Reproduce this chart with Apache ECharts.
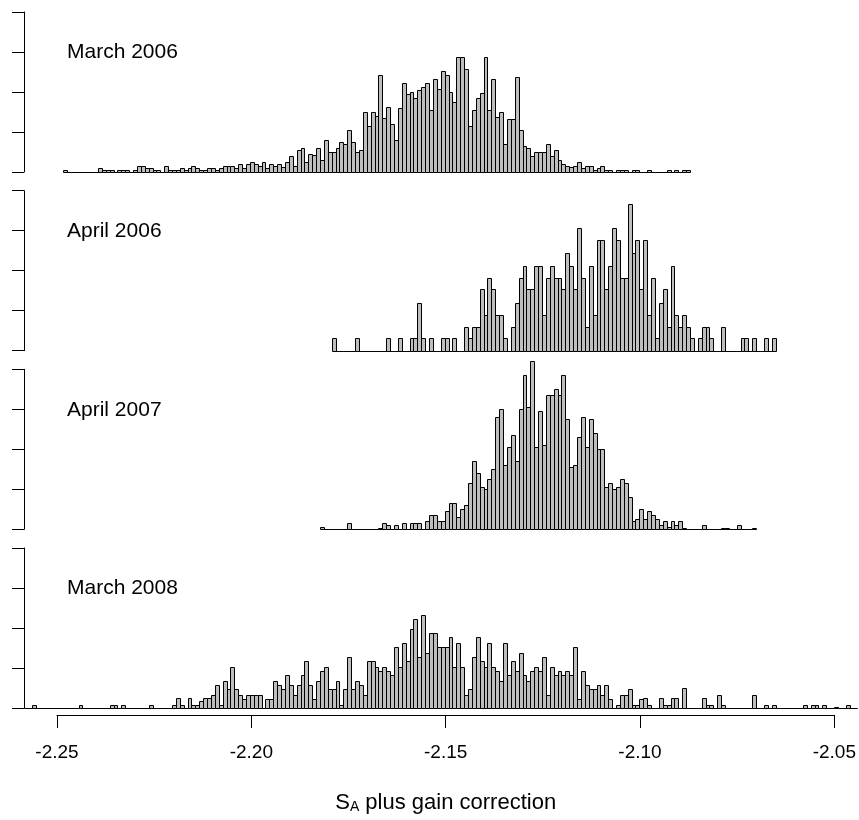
<!DOCTYPE html>
<html><head><meta charset="utf-8">
<script src="https://cdn.jsdelivr.net/npm/echarts@6/dist/echarts.min.js"></script>
<style>html,body{margin:0;padding:0;background:#fff}#chart{width:859px;height:820px}</style>
</head><body><div id="chart"></div>
<script>
// ---- data (bin width 0.001; values = density) ----
const binWidth = 0.001;
const panelLabels = ['March 2006', 'April 2006', 'April 2007', 'March 2008'];
const xTicks = [-2.25, -2.20, -2.15, -2.10, -2.05];
const xTitle = 'S_A plus gain correction';

// first bin centre of each panel
const march2006Start = -2.248;
const march2006 = [0.5,0,0,0,0,0,0,0,0,1.0,0.5,0.5,0.5,0,0.5,0.5,0.5,0,0.5,1.5,1.5,1.0,1.0,0.5,0.5,0,1.5,0.5,0.5,0.5,1.0,0.5,1.0,1.5,1.0,0.5,0.5,1.0,1.0,0.5,1.0,1.5,1.5,1.5,1.0,2.0,1.0,2.0,2.5,2.0,1.5,2.5,1.0,2.0,
 1.5,2.0,1.3,2.5,4.0,1.5,5.5,6.0,2.5,4.5,4.2,6.0,3.0,8.0,5.0,5.0,6.0,7.5,7.0,10.5,7.5,5.0,5.5,15.0,11.5,15.0,14.0,24.3,13.5,16.3,12.0,8.0,16.0,22.3,19.5,20.0,18.5,20.5,21.3,22.3,15.5,23.3,20.8,25.3,24.3,20.0,17.5,28.8,28.8,25.8,11.5,15.5,18.5,
 19.8,28.8,15.5,23.3,13.8,15,7,13.3,13.3,23.8,10.5,6.5,6.0,4.0,5,5,5,7,4,5.5,3,2,1.5,1.2,1.5,2.5,1,1.5,1.5,0.5,1,1.5,0.5,0.5,0,0.5,0.5,0.5,0,0.5,0.5,0,0,0.5,0,0,0,0,0.5,0,0.5,0,0.5,0.5];

const april2006Start = -2.179;
const april2006 = [3.1,0,0,0,0,0,3.1,0,0,0,0,0,0,0,3.1,0,0,3.1,0,0,3.1,3.1,11.8,3.1,0,3.1,0,0,3.1,3.1,0,3.1,0,0,6,3.1,6,6,15.3,9,18.2,15.3,9,9,3.1,0,6,11.8,18.2,21.2,15.3,15.3,21.2,21.2,9,18.2,
 21.2,18.2,18.2,15.3,24.3,21.2,15.3,30.7,18.2,6,21.2,9,27.7,27.7,15.3,21.2,30.7,27.7,18.2,18.2,36.7,24.3,27.7,15.3,27.7,9,18.2,3.1,11.8,15.3,6,21.2,9,6,9,6,3.1,0,3.1,6,6,3.1,0,0,6,0,0,0,0,3.1,3.1,0,3.1,0,0,3.1,0,3.1];

const april2007Start = -2.182;
const april2007 = [0.5,0,0,0,0,0,0,1.7,0,0,0,0,0,0,0,0.3,1.7,1.2,0,1.2,0,1.7,0,1.7,1.7,1.7,0,2.2,3.5,3.5,2.2,2.2,4.7,6.7,6.7,3.2,5.2,6,11.5,17,14,10.5,10,12.5,15,28,30,16,20.5,23.5,17,30,38.5,30.5,
 42,20.5,29.5,21,33.5,33.5,35,33.5,38.5,27.5,15.5,16,23,28,20.5,27.5,24,20,20,10.5,11.5,10,10.5,12.5,11.5,8,2,2.7,5.2,2.7,4.7,3.7,2.7,1.2,2.2,0.7,2.2,1.2,2.2,0.3,0,0,0,0.2,1.2,0,0,0,0,0.3,0.3,0,0,1.2,0,0,0,0.3];

const march2008Start = -2.258;
const march2008 = [0,0,0.8,0,0,0,0,0,0,0,0,0,0,0,0.8,0,0,0,0,0,0,0,0.8,0.8,0,0.8,0,0,0,0,0,0,0.8,0,0,0,0,0,0.8,2.5,0.8,0,2.5,0.8,0.8,1.7,2.5,2.5,3.3,5.8,
 0.8,6.8,4.8,10.2,4.8,3.3,2.3,3.3,3.3,3.3,3.3,0,2.3,2.3,6.8,5.8,4.8,8.3,5.8,3.3,5.8,8.3,11.8,5.8,2.3,6.8,9.3,10.3,4.8,4.8,6.8,0.8,4.8,12.8,4.8,6.8,5.8,3.3,11.8,11.8,10.2,9.3,10.2,9.3,8.3,15.3,10.2,16.3,11.8,19.7,22.2,12.8,23.2,13.8,18.8,18.8,
 15.3,15.3,15.3,17.7,10.2,16.3,10.2,3.3,4.8,12.8,17.7,11.8,10.2,16.3,10.2,9.3,6.8,16.3,8.3,11.8,9.3,13.8,8.3,6.8,9.3,10.2,9.3,12.8,3.3,10.2,8.3,9.3,8.3,9.3,8.3,15.3,2.3,9.3,5.8,4.8,4.8,5.8,3.3,5.8,2.3,0,0.8,3.3,3.3,4.8,0.8,0.8,2.3,
 2.5,0.8,0,0,2.5,0.8,0.8,2.5,2.5,0,5,0,0,0,0,2.5,0.8,0.8,0,3.3,0.8,0,0,0,0,0,0,0,3.3,0,0,0.8,0,0.8,0,0,0,0,0,0,0,0.8,0,0.8,0.8,0,0.8,0,0,0.3,0,0,0.8,0,0];

// ---- chart ----
const panels = [
  {start: march2006Start, values: march2006},
  {start: april2006Start, values: april2006},
  {start: april2007Start, values: april2007},
  {start: march2008Start, values: march2008}
];
const FONT = 'Liberation Sans, Arial, sans-serif';
const xMin = -2.2585, xMax = -2.0441;
const panelTops = [12, 190.67, 369.33, 548];
const panelHeight = 160;

function renderItem(params, api) {
  const x = api.value(0), h = api.value(1);
  const p0 = api.coord([x - binWidth / 2, 0]);
  const p1 = api.coord([x + binWidth / 2, h]);
  const x0 = Math.round(p0[0]) + 0.5, x1 = Math.round(p1[0]) + 0.5;
  const y0 = Math.round(p0[1]) + 0.5, y1 = Math.round(p1[1]) + 0.5;
  return {
    type: 'rect',
    shape: {x: x0, y: y1, width: x1 - x0, height: y0 - y1},
    style: {fill: '#bebebe', stroke: '#000', lineWidth: 1}
  };
}

const grids = [], xAxes = [], yAxes = [], series = [], titles = [];
panels.forEach((p, i) => {
  grids.push({left: 24, right: 0, top: panelTops[i], height: panelHeight});
  xAxes.push({type: 'value', gridIndex: i, min: xMin, max: xMax, show: false});
  yAxes.push({
    type: 'value', gridIndex: i, min: 0, max: 40, interval: 10,
    axisLine: {show: true, lineStyle: {color: '#000', width: 1}},
    axisTick: {show: true, length: 12, lineStyle: {color: '#000', width: 1}},
    axisLabel: {show: false}, splitLine: {show: false}
  });
  const k0 = Math.round(p.start / binWidth);
  series.push({
    type: 'custom', xAxisIndex: i, yAxisIndex: i, clip: false, silent: true,
    renderItem: renderItem,
    data: p.values.map((v, j) => [(k0 + j) * binWidth, v])
  });
  titles.push({
    text: panelLabels[i], left: 67, top: panelTops[i] + 30, padding: 0,
    textStyle: {fontSize: 21, fontWeight: 'normal', color: '#000', fontFamily: FONT}
  });
});

// bottom reference axis
grids.push({left: 57, right: 23, top: 700, height: 15});
const tParts = xTitle.split('_');
xAxes.push({
  type: 'value', gridIndex: 4, min: xTicks[0], max: xTicks[xTicks.length - 1],
  interval: xTicks[1] - xTicks[0],
  axisLine: {show: true, onZero: false, lineStyle: {color: '#000', width: 1}},
  axisTick: {show: true, length: 13, lineStyle: {color: '#000', width: 1}},
  axisLabel: {show: true, fontSize: 19, color: '#000', fontFamily: FONT, margin: 28,
              formatter: v => v.toFixed(2)},
  splitLine: {show: false},
  name: '{n|' + tParts[0] + '}{s|' + tParts[1].charAt(0) + '}{n|' + tParts[1].slice(1) + '}',
  nameLocation: 'middle', nameGap: 76,
  nameTextStyle: {
    rich: {
      n: {fontSize: 22, color: '#000', fontFamily: FONT},
      s: {fontSize: 14, color: '#000', fontFamily: FONT, verticalAlign: 'bottom', padding: [9, 0, 0, 0]}
    }
  }
});
yAxes.push({type: 'value', gridIndex: 4, show: false});

const chart = echarts.init(document.getElementById('chart'), null, {renderer: 'canvas'});
chart.setOption({
  animation: false,
  backgroundColor: '#fff',
  title: titles,
  grid: grids,
  xAxis: xAxes,
  yAxis: yAxes,
  series: series
});
</script>
</body></html>
